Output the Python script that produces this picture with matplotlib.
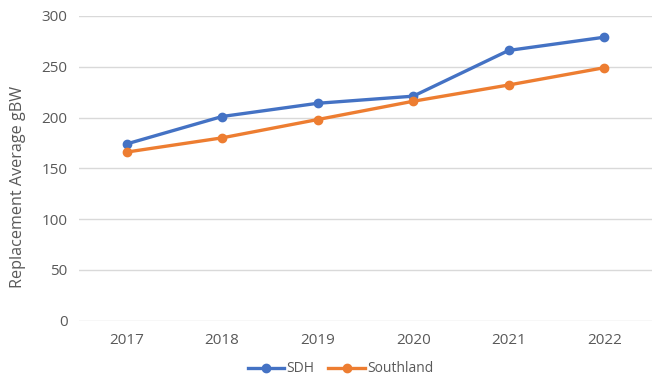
import matplotlib
matplotlib.use("Agg")
import matplotlib.pyplot as plt

years = ["2017", "2018", "2019", "2020", "2021", "2022"]
sdh = [174, 201, 214, 221, 266, 279]
southland = [166, 180, 198, 216, 232, 249]
yticks = [0, 50, 100, 150, 200, 250, 300]

plt.rcParams['font.family'] = ['Open Sans', 'DejaVu Sans']
txt = '#595959'

fig = plt.figure(figsize=(6.68, 3.87), dpi=100)
ax = fig.add_axes([0.118, 0.171, 0.858, 0.788])
x = list(range(len(years)))
ax.plot(x, sdh, color='#4472C4', lw=2.4, marker='o', ms=6, label='SDH', zorder=3)
ax.plot(x, southland, color='#ED7D31', lw=2.4, marker='o', ms=6, label='Southland', zorder=3)

ax.set_xlim(-0.5, len(years) - 0.5)
ax.set_ylim(0, 300)
ax.set_xticks(x)
ax.set_xticklabels(years)
ax.set_yticks(yticks)
ax.grid(axis='y', color='#D9D9D9', lw=1)
ax.set_axisbelow(True)
for s in ax.spines.values():
    s.set_visible(False)
ax.tick_params(length=0, labelsize=11, colors=txt, pad=8)
ax.tick_params(axis='x', pad=9)
ax.set_ylabel('Replacement Average gBW', fontsize=11.6, color=txt)
ax.yaxis.set_label_coords(-0.093, 0.44)

fig.legend(loc='lower center', bbox_to_anchor=(0.51, -0.005), ncol=2, frameon=False,
           fontsize=10, labelcolor=txt, handlelength=2.6, handletextpad=0.2,
           columnspacing=1.0)
fig.savefig('out.png', dpi=100)
